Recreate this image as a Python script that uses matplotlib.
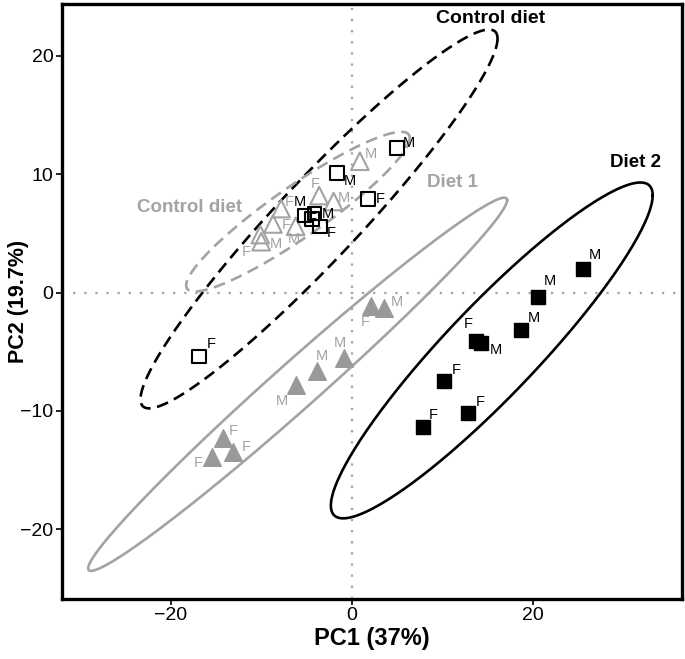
import numpy as np
import matplotlib.pyplot as plt

plt.rcParams['font.family'] = ['Liberation Sans', 'DejaVu Sans']

# experiment shown in black: control diet (open squares) and diet 2 (filled squares)
ctrl_b_x = [5.0, -1.6, 1.8, -5.2, -4.1, -4.4, -3.5, -16.9]
ctrl_b_y = [12.2, 10.1, 7.9, 6.5, 6.7, 6.2, 5.6, -5.4]
ctrl_b_sex = ['M', 'M', 'F', 'M', 'M', 'F', 'F', 'F']

diet2_x = [25.5, 20.6, 18.7, 13.7, 14.3, 10.2, 12.9, 7.9]
diet2_y = [2.0, -0.4, -3.2, -4.1, -4.3, -7.5, -10.2, -11.4]
diet2_sex = ['M', 'M', 'M', 'F', 'M', 'F', 'F', 'F']

# experiment shown in grey: control diet (open triangles) and diet 1 (filled triangles)
ctrl_g_x = [0.9, -3.6, -2.0, -7.8, -8.7, -6.2, -10.1, -10.0]
ctrl_g_y = [11.1, 8.2, 7.7, 7.1, 5.8, 5.6, 4.9, 4.3]
ctrl_g_sex = ['M', 'F', 'M', 'F', 'F', 'M', 'F', 'M']

diet1_x = [2.1, 3.6, -0.8, -3.8, -6.2, -14.2, -13.1, -15.4]
diet1_y = [-1.1, -1.3, -5.5, -6.6, -7.8, -12.3, -13.5, -13.9]
diet1_sex = ['F', 'M', 'M', 'M', 'M', 'F', 'F', 'F']

# label offsets (pixels) for the F/M tags
off_ctrl_b = [(12, 5), (13, -8), (12, 0), (-5, 14), (13, -1), (0, 0), (11, -7), (12, 12)]
off_diet2 = [(12, 14), (12, 16), (13, 12), (-7, 17), (15, -7), (12, 11), (12, 11), (10, 12)]
off_ctrl_g = [(11, 7), (-4, 12), (10, 3), (8, 7), (13, -1), (-2, -13), (-14, -17), (15, -2)]
off_diet1 = [(-5, -16), (13, 6), (-5, 15), (5, 15), (-14, -16), (10, 7), (13, 5), (-14, -6)]

GREY = '#a3a3a3'


def ellipse(x, y, level=0.95, n=300):
    pts = np.column_stack([x, y])
    c = pts.mean(axis=0)
    cov = np.cov(pts.T)
    dfd = len(x) - 1
    fq = dfd / 2 * ((1 - level) ** (-2 / dfd) - 1)
    r = np.sqrt(2 * fq)
    t = np.linspace(0, 2 * np.pi, n)
    circ = np.column_stack([np.cos(t), np.sin(t)])
    e = c + r * circ @ np.linalg.cholesky(cov).T
    return e[:, 0], e[:, 1]


fig = plt.figure(figsize=(6.85, 6.59), dpi=100)
ax = fig.add_axes([0.0901, 0.091, 0.9051, 0.9029])

ax.axvline(0, color=GREY, ls=(0, (1, 4)), lw=1.6, zorder=1)
ax.axhline(0, color=GREY, ls=(0, (1, 4)), lw=1.6, zorder=1)

ex, ey = ellipse(ctrl_b_x, ctrl_b_y)
ax.plot(ex, ey, color='black', lw=1.9, ls=(0, (4.5, 2.5)), zorder=2)
ex, ey = ellipse(ctrl_g_x, ctrl_g_y)
ax.plot(ex, ey, color=GREY, lw=1.9, ls=(0, (4.5, 2.5)), zorder=2)
ex, ey = ellipse(diet1_x, diet1_y)
ax.plot(ex, ey, color=GREY, lw=1.9, zorder=2)
ex, ey = ellipse(diet2_x, diet2_y)
ax.plot(ex, ey, color='black', lw=1.9, zorder=2)

ax.scatter(ctrl_g_x, ctrl_g_y, marker='^', s=160, facecolors='none',
           edgecolors=GREY, linewidths=1.5, zorder=3)
ax.scatter(diet1_x, diet1_y, marker='^', s=160, color='#999999', zorder=3)
ax.scatter(ctrl_b_x, ctrl_b_y, marker='s', s=95, facecolors='none',
           edgecolors='black', linewidths=1.5, zorder=4)
ax.scatter(diet2_x, diet2_y, marker='s', s=95, color='black', zorder=4)


def tag(xs, ys, labels, offs, color):
    for x, y, lab, o in zip(xs, ys, labels, offs):
        ax.annotate(lab, (x, y), xytext=o, textcoords='offset pixels',
                    ha='center', va='center', fontsize=10.5, color=color, zorder=5)


tag(ctrl_g_x, ctrl_g_y, ctrl_g_sex, off_ctrl_g, GREY)
tag(diet1_x, diet1_y, diet1_sex, off_diet1, GREY)
tag(ctrl_b_x, ctrl_b_y, ctrl_b_sex, off_ctrl_b, 'black')
tag(diet2_x, diet2_y, diet2_sex, off_diet2, 'black')

ax.text(15.3, 23.2, 'Control diet', ha='center', va='center', fontsize=14,
        fontweight='bold', color='black')
ax.text(-17.9, 7.2, 'Control diet', ha='center', va='center', fontsize=13.5,
        fontweight='bold', color=GREY)
ax.text(11.1, 9.3, 'Diet 1', ha='center', va='center', fontsize=13.5,
        fontweight='bold', color=GREY)
ax.text(31.4, 11.0, 'Diet 2', ha='center', va='center', fontsize=13.5,
        fontweight='bold', color='black')

ax.set_xlim(-32.04, 36.46)
ax.set_ylim(-25.9, 24.39)
ax.set_xticks([-20, 0, 20])
ax.set_yticks([-20, -10, 0, 10, 20])
ax.tick_params(labelsize=14, length=4, width=1.2, color='black', pad=2)
for s in ax.spines.values():
    s.set_linewidth(2.4)
ax.set_xlabel('PC1 (37%)', fontsize=17, fontweight='bold', labelpad=2)
ax.set_ylabel('PC2 (19.7%)', fontsize=15.5, fontweight='bold')
ax.yaxis.set_label_coords(-0.052, 0.5)

fig.savefig('out.png', dpi=100)
